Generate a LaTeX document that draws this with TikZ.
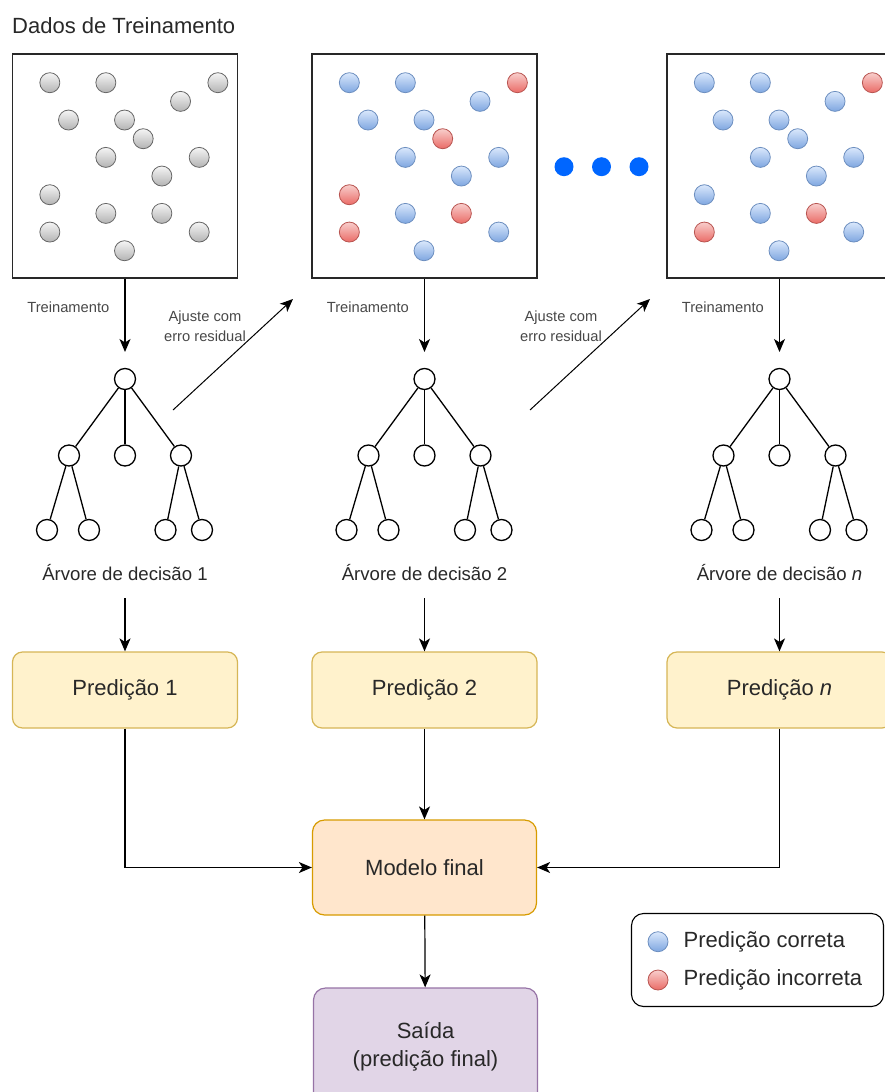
\documentclass[tikz,border=0pt]{standalone}
\usepackage{fontspec}
\setmainfont{Liberation Sans}
\usepackage{tikz}
\usetikzlibrary{arrows.meta,positioning}
\definecolor{tx}{RGB}{40,40,40}
\definecolor{czf}{HTML}{F5F5F5}
\definecolor{czs}{HTML}{B3B3B3}
\definecolor{czb}{HTML}{666666}
\definecolor{azf}{HTML}{DAE8FC}
\definecolor{azs}{HTML}{7EA6E0}
\definecolor{azb}{HTML}{6C8EBF}
\definecolor{vmf}{HTML}{F8CECC}
\definecolor{vms}{HTML}{EA6B66}
\definecolor{vmb}{HTML}{B85450}
\definecolor{ret}{RGB}{0,102,255}
\definecolor{amf}{HTML}{FFF2CC}
\definecolor{amb}{HTML}{D6B656}
\definecolor{ljf}{HTML}{FFE6CC}
\definecolor{ljb}{HTML}{D79B00}
\definecolor{rxf}{HTML}{E1D5E7}
\definecolor{rxb}{HTML}{9673A6}

\begin{document}
\begin{tikzpicture}[x=1pt,y=-1pt,
  quadro/.style={draw=tx,line width=1.4pt,minimum width=225pt,minimum height=224pt,inner sep=0pt},
  bol/.style={circle,minimum size=20pt,inner sep=0pt,line width=0.8pt},
  bcz/.style={bol,draw=czb,top color=czf,bottom color=czs},
  baz/.style={bol,draw=azb,top color=azf,bottom color=azs},
  bvm/.style={bol,draw=vmb,top color=vmf,bottom color=vms},
  no/.style={circle,draw=black,line width=1.3pt,minimum size=21pt,inner sep=0pt,fill=white},
  ramo/.style={line width=1.3pt},
  seta/.style={-{Stealth[length=13pt,width=11pt,inset=3.5pt]},line width=1.4pt},
  caixa/.style={rounded corners=10pt,line width=1.2pt,minimum width=225pt,align=center,text=tx,
    font=\fontsize{22}{28}\selectfont},
  pequeno/.style={text=tx!85,font=\fontsize{14.7}{20}\selectfont,align=center,inner sep=0pt},
  legenda/.style={text=tx,font=\fontsize{18.6}{22}\selectfont,inner sep=0pt}]
  \path[use as bounding box,clip] (0,0) rectangle (885,1092);

  % title
  \node[anchor=west,inner sep=0pt,text=tx,font=\fontsize{22}{26}\selectfont] (titulo) at (12,26) {Dados de Treinamento};

  % data boxes
  \node[quadro] (dados1) at (125,166) {};
  \node[quadro] (dados2) at (424.5,166) {};
  \node[quadro] (dados3) at (779.5,166) {};

  % points, box 1
  \foreach \i/\k [count=\n] in {2/0,5/0,11/0,9/1,3/2,6/2,7/3,5/4,10/4,8/5,2/6,5/7,8/7,2/8,10/8,6/9}
    \node[bcz] (pa\n) at (12.5+\i*18.67,82.7+\k*18.67) {};
  % points, box 2
  \foreach \i/\k/\cor [count=\n] in {2/0/baz,5/0/baz,11/0/bvm,9/1/baz,3/2/baz,6/2/baz,7/3/bvm,5/4/baz,
      10/4/baz,8/5/baz,2/6/bvm,5/7/baz,8/7/bvm,2/8/bvm,10/8/baz,6/9/baz}
    \node[\cor] (pb\n) at (312+\i*18.67,82.7+\k*18.67) {};
  % points, box 3
  \foreach \i/\k/\cor [count=\n] in {2/0/baz,5/0/baz,11/0/bvm,9/1/baz,3/2/baz,6/2/baz,7/3/baz,5/4/baz,
      10/4/baz,8/5/baz,2/6/baz,5/7/baz,8/7/bvm,2/8/bvm,10/8/baz,6/9/baz}
    \node[\cor] (pc\n) at (667+\i*18.67,82.7+\k*18.67) {};

  % ellipsis
  \node[circle,fill=ret,minimum size=19pt,inner sep=0pt] (ret1) at (564,166.7) {};
  \node[circle,fill=ret,minimum size=19pt,inner sep=0pt] (ret2) at (601.5,166.7) {};
  \node[circle,fill=ret,minimum size=19pt,inner sep=0pt] (ret3) at (639,166.7) {};

  % trees
  \foreach \t/\cx in {1/125,2/424.5,3/779.5}{
    \node[no] (t\t r) at (\cx,379) {};
    \node[no] (t\t a) at (\cx-56,455.5) {};
    \node[no] (t\t b) at (\cx,455.5) {};
    \node[no] (t\t c) at (\cx+56,455.5) {};
    \node[no] (t\t a1) at (\cx-78,530) {};
    \node[no] (t\t a2) at (\cx-36,530) {};
    \node[no] (t\t c1) at (\cx+40.5,530) {};
    \node[no] (t\t c2) at (\cx+77,530) {};
    \draw[ramo] (t\t r) -- (t\t a);
    \draw[ramo] (t\t r) -- (t\t b);
    \draw[ramo] (t\t r) -- (t\t c);
    \draw[ramo] (t\t a) -- (t\t a1);
    \draw[ramo] (t\t a) -- (t\t a2);
    \draw[ramo] (t\t c) -- (t\t c1);
    \draw[ramo] (t\t c) -- (t\t c2);
    \coordinate (e\t) at (\cx,352);
    \draw[seta] (dados\t) -- (e\t);
    \node[pequeno,anchor=east] (treino\t) at (\cx-15.5,307) {Treinamento};
  }

  % tree captions
  \node[legenda,anchor=base] (cap1) at (125,580) {Árvore de decisão 1};
  \node[legenda,anchor=base] (cap2) at (424.5,580) {Árvore de decisão 2};
  \node[legenda,anchor=base] (cap3) at (779.5,580) {Árvore de decisão \textit{n}};

  % residual fitting
  \coordinate (aj1a) at (173,410);
  \coordinate (aj1b) at (293,299);
  \coordinate (aj2a) at (530,410);
  \coordinate (aj2b) at (650,299);
  \draw[seta,line width=1pt] (aj1a) -- (aj1b);
  \draw[seta,line width=1pt] (aj2a) -- (aj2b);
  \node[pequeno] (ajuste1) at (205,326) {Ajuste com\\erro residual};
  \node[pequeno] (ajuste2) at (561,326) {Ajuste com\\erro residual};

  % predictions
  \node[caixa,draw=amb,fill=amf,minimum height=76pt] (pred1) at (125,690) {Predição 1};
  \node[caixa,draw=amb,fill=amf,minimum height=76pt] (pred2) at (424.5,690) {Predição 2};
  \node[caixa,draw=amb,fill=amf,minimum height=76pt] (pred3) at (779.5,690) {Predição \textit{n}};
  \draw[seta] ([yshift=-18pt]cap1.south) -- (pred1);
  \draw[seta] ([yshift=-18pt]cap2.south) -- (pred2);
  \draw[seta] ([yshift=-18pt]cap3.south) -- (pred3);

  % final model and output
  \node[caixa,draw=ljb,fill=ljf,minimum width=224pt,minimum height=95pt,rounded corners=12pt] (modelo) at (424.5,867.5) {Modelo final};
  \node[caixa,draw=rxb,fill=rxf,minimum width=224pt,minimum height=118pt,rounded corners=12pt] (saida) at (425.5,1047) {Saída\\(predição final)};
  \draw[seta,line width=1.2pt] (pred1) |- (modelo);
  \draw[seta,line width=1.2pt] (pred2) -- (modelo);
  \draw[seta,line width=1.2pt] (pred3) |- (modelo);
  \draw[seta,line width=1.2pt] (modelo) -- (saida);

  % legend
  \node[draw=black,line width=1.1pt,rounded corners=12pt,minimum width=252pt,minimum height=93pt] (leg) at (757.5,960) {};
  \node[baz] (legaz) at (658,941.7) {};
  \node[bvm] (legvm) at (658,980) {};
  \node[anchor=west,inner sep=0pt,text=tx,font=\fontsize{22}{26}\selectfont] (legtx1) at (683.5,941.7) {Predição correta};
  \node[anchor=west,inner sep=0pt,text=tx,font=\fontsize{22}{26}\selectfont] (legtx2) at (683.5,980) {Predição incorreta};
\end{tikzpicture}
\end{document}
